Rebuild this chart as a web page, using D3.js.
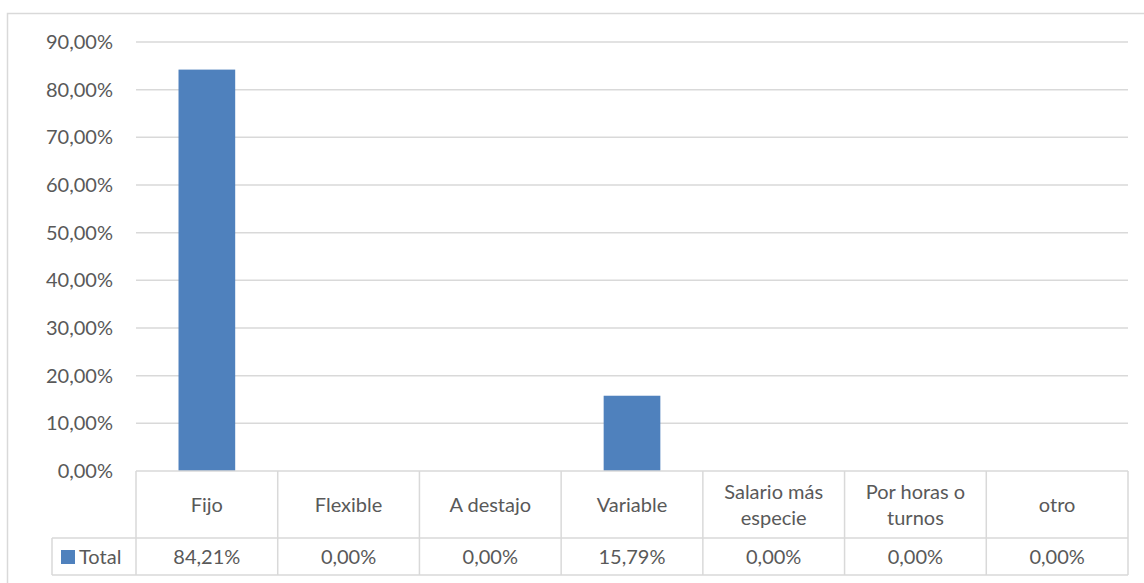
<!DOCTYPE html>
<meta charset="utf-8" />
<style>
    body { margin: 0; background: #fff; }
    text { font-family: Lato, "Open Sans", sans-serif; fill: #595959; font-size: 20px; }
</style>
<svg width="1144" height="583"></svg>
<script src="https://d3js.org/d3.v7.min.js"></script>
<script>
    // data
    var categories = ["Fijo", "Flexible", "A destajo", "Variable", "Salario más especie", "Por horas o turnos", "otro"];
    var catLines = [["Fijo"], ["Flexible"], ["A destajo"], ["Variable"], ["Salario más", "especie"], ["Por horas o", "turnos"], ["otro"]];
    var values = [0.8421, 0, 0, 0.1579, 0, 0, 0];
    var seriesName = "Total";
    var ticks = [0, 0.1, 0.2, 0.3, 0.4, 0.5, 0.6, 0.7, 0.8, 0.9];

    var svg = d3.select("svg");
    var fmt = function (v) { return (v * 100).toFixed(2).replace(".", ",") + "%"; };

    // chart frame
    svg.append("rect")
        .attr("x", 7.5).attr("y", 13.5)
        .attr("width", 1150).attr("height", 600)
        .attr("fill", "none").attr("stroke", "#d9d9d9").attr("stroke-width", 1.5);

    var plotLeft = 136, plotRight = 1128, plotTop = 42, plotBottom = 471;
    var x = d3.scaleBand().domain(categories).range([plotLeft, plotRight]);
    var y = d3.scaleLinear().domain([0, 0.9]).range([plotBottom, plotTop]);

    // gridlines
    svg.append("g").selectAll("line")
        .data(ticks.slice(1))
        .enter().append("line")
        .attr("x1", plotLeft).attr("x2", plotRight)
        .attr("y1", function (d) { return y(d); })
        .attr("y2", function (d) { return y(d); })
        .attr("stroke", "#d9d9d9").attr("stroke-width", 1.5);

    // y labels
    svg.append("g").selectAll("text")
        .data(ticks)
        .enter().append("text")
        .attr("x", 113)
        .attr("y", function (d) { return y(d); })
        .attr("dy", "0.35em")
        .attr("text-anchor", "end")
        .text(fmt);

    // bars
    var bw = x.bandwidth() * 0.4;
    svg.append("g").selectAll("rect")
        .data(values)
        .enter().append("rect")
        .attr("x", function (d, i) { return x(categories[i]) + (x.bandwidth() - bw) / 2; })
        .attr("width", bw)
        .attr("y", function (d) { return y(d); })
        .attr("height", function (d) { return plotBottom - y(d); })
        .attr("fill", "#4f81bd");

    // data table
    var rowTop = 471, rowMid = 538, rowBot = 575, legLeft = 52;
    var tbl = svg.append("g").attr("stroke", "#d9d9d9").attr("stroke-width", 1.5);
    tbl.append("line").attr("x1", plotLeft).attr("x2", plotRight).attr("y1", rowTop).attr("y2", rowTop);
    tbl.append("line").attr("x1", legLeft).attr("x2", plotRight).attr("y1", rowMid).attr("y2", rowMid);
    tbl.append("line").attr("x1", legLeft).attr("x2", plotRight).attr("y1", rowBot).attr("y2", rowBot);
    tbl.append("line").attr("x1", legLeft).attr("x2", legLeft).attr("y1", rowMid).attr("y2", rowBot);
    tbl.selectAll(".v")
        .data(categories.concat(["end"]))
        .enter().append("line")
        .attr("x1", function (d, i) { return plotLeft + i * x.bandwidth(); })
        .attr("x2", function (d, i) { return plotLeft + i * x.bandwidth(); })
        .attr("y1", rowTop).attr("y2", rowBot);

    // category labels
    var cat = svg.append("g").selectAll("text")
        .data(catLines)
        .enter().append("text")
        .attr("text-anchor", "middle")
        .attr("x", function (d, i) { return x(categories[i]) + x.bandwidth() / 2; })
        .attr("y", function (d) { return (rowTop + rowMid) / 2 - (d.length - 1) * 13; });
    cat.selectAll("tspan")
        .data(function (d) { return d; })
        .enter().append("tspan")
        .attr("x", function () { return d3.select(this.parentNode).attr("x"); })
        .attr("dy", function (d, i) { return i === 0 ? "0.35em" : "26"; })
        .text(function (d) { return d; });

    // values row
    svg.append("g").selectAll("text")
        .data(values)
        .enter().append("text")
        .attr("text-anchor", "middle")
        .attr("x", function (d, i) { return x(categories[i]) + x.bandwidth() / 2; })
        .attr("y", (rowMid + rowBot) / 2)
        .attr("dy", "0.35em")
        .text(fmt);

    // legend key
    svg.append("rect").attr("x", 61).attr("y", 550).attr("width", 14).attr("height", 14).attr("fill", "#4f81bd");
    svg.append("text").attr("x", 79).attr("y", (rowMid + rowBot) / 2).attr("dy", "0.35em").text(seriesName);
</script>
